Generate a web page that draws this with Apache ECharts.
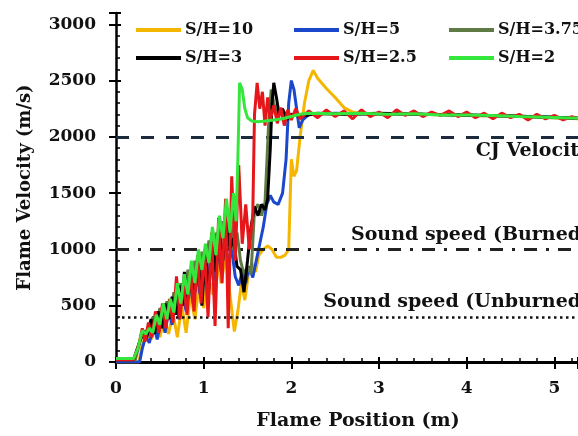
<!DOCTYPE html>
<html>
<head>
<meta charset="utf-8">
<script src="https://cdn.jsdelivr.net/npm/echarts@6/dist/echarts.min.js"></script>
<style>
  html, body { margin: 0; padding: 0; background: #fff; }
  #chart { width: 578px; height: 436px; }
</style>
</head>
<body>
<div id="chart"></div>
<script>
// flame velocity vs position, one array per S/H ratio
const seriesNames = ['S/H=10', 'S/H=5', 'S/H=3.75', 'S/H=3', 'S/H=2.5', 'S/H=2'];
const seriesColors = ['#f4b600', '#1b47cc', '#5f7a45', '#000000', '#e5171b', '#35e63c'];

const sh10 = [[0,0],[0.26,0],[0.3,150],[0.35,260],[0.4,200],[0.45,330],[0.5,220],[0.55,380],[0.6,250],[0.65,430],[0.7,220],[0.75,500],[0.8,260],[0.85,600],[0.9,380],[0.95,700],[1.0,480],[1.05,800],[1.1,600],[1.15,900],[1.2,700],[1.25,950],[1.3,600],[1.35,270],[1.39,450],[1.43,700],[1.47,550],[1.51,780],[1.55,880],[1.59,800],[1.63,950],[1.68,1000],[1.73,1030],[1.78,1000],[1.83,930],[1.88,930],[1.93,950],[1.97,1000],[2.0,1800],[2.03,1650],[2.06,1700],[2.1,2000],[2.15,2300],[2.2,2500],[2.25,2590],[2.3,2520],[2.4,2430],[2.5,2350],[2.6,2260],[2.7,2220],[2.8,2205],[3.0,2200],[3.5,2200],[4.0,2190],[4.5,2185],[5.0,2170],[5.27,2160]];

const sh5 = [[0,0],[0.27,0],[0.3,120],[0.34,230],[0.38,170],[0.43,320],[0.47,200],[0.52,400],[0.56,260],[0.6,460],[0.64,330],[0.68,560],[0.72,380],[0.76,620],[0.8,450],[0.84,720],[0.88,520],[0.92,800],[0.96,600],[1.0,880],[1.04,650],[1.08,950],[1.12,720],[1.16,1020],[1.2,800],[1.24,1100],[1.28,880],[1.32,1000],[1.36,760],[1.4,680],[1.44,800],[1.48,700],[1.52,850],[1.56,750],[1.6,900],[1.64,1050],[1.68,1200],[1.72,1400],[1.76,1480],[1.8,1420],[1.85,1400],[1.9,1500],[1.94,1800],[1.97,2300],[2.0,2500],[2.03,2420],[2.06,2250],[2.09,2080],[2.13,2150],[2.2,2200],[2.5,2210],[3.0,2200],[3.5,2200],[4.0,2195],[4.5,2185],[5.0,2175],[5.27,2165]];

const sh375 = [[0,20],[0.22,20],[0.28,200],[0.33,280],[0.37,230],[0.42,400],[0.46,270],[0.5,480],[0.54,320],[0.58,540],[0.62,400],[0.66,620],[0.7,450],[0.74,700],[0.78,530],[0.82,820],[0.86,600],[0.9,900],[0.94,680],[0.98,980],[1.02,750],[1.06,1080],[1.1,850],[1.14,1150],[1.18,950],[1.22,1250],[1.26,1050],[1.3,1300],[1.34,1000],[1.38,1150],[1.42,900],[1.46,780],[1.5,850],[1.54,780],[1.58,1350],[1.62,1400],[1.66,1300],[1.7,1420],[1.74,2100],[1.77,2420],[1.8,2300],[1.84,2180],[1.9,2220],[2.0,2190],[2.2,2200],[2.6,2205],[3.0,2200],[3.5,2200],[4.0,2190],[4.5,2185],[5.0,2170],[5.27,2165]];

const sh3 = [[0,20],[0.2,20],[0.27,180],[0.31,260],[0.35,220],[0.4,380],[0.44,250],[0.48,450],[0.52,300],[0.56,520],[0.6,380],[0.64,580],[0.68,420],[0.72,680],[0.76,500],[0.78,800],[0.82,560],[0.86,780],[0.9,620],[0.94,880],[0.98,500],[1.02,950],[1.06,650],[1.1,1050],[1.14,800],[1.18,1150],[1.22,900],[1.26,1250],[1.3,1000],[1.34,1100],[1.38,850],[1.42,820],[1.46,620],[1.5,900],[1.54,1200],[1.58,1380],[1.62,1300],[1.66,1400],[1.7,1350],[1.73,1450],[1.76,1900],[1.78,2300],[1.8,2480],[1.83,2350],[1.86,2200],[1.9,2250],[1.95,2150],[2.0,2200],[2.1,2180],[2.3,2210],[2.6,2200],[3.0,2210],[3.5,2200],[4.0,2195],[4.5,2185],[5.0,2175],[5.27,2165]];

const sh25 = [[0,20],[0.2,20],[0.26,150],[0.3,300],[0.33,180],[0.37,350],[0.41,220],[0.45,450],[0.49,260],[0.53,520],[0.57,300],[0.61,560],[0.65,350],[0.69,760],[0.73,380],[0.77,700],[0.81,420],[0.85,820],[0.89,450],[0.93,950],[0.97,520],[1.01,1000],[1.05,400],[1.09,1150],[1.13,320],[1.17,1280],[1.21,700],[1.25,1450],[1.28,300],[1.32,1650],[1.36,900],[1.4,1750],[1.44,1050],[1.48,1400],[1.52,1000],[1.56,1300],[1.58,2200],[1.61,2480],[1.64,2250],[1.67,2400],[1.7,2100],[1.73,2350],[1.76,2150],[1.8,2280],[1.84,2120],[1.88,2260],[1.92,2100],[1.96,2240],[2.0,2150],[2.05,2250],[2.1,2160],[2.2,2230],[2.3,2170],[2.4,2240],[2.5,2180],[2.6,2230],[2.7,2160],[2.8,2240],[2.9,2180],[3.0,2220],[3.1,2170],[3.2,2240],[3.3,2190],[3.4,2230],[3.5,2180],[3.6,2220],[3.7,2190],[3.8,2230],[3.9,2180],[4.0,2220],[4.1,2170],[4.2,2210],[4.3,2160],[4.4,2210],[4.5,2170],[4.6,2200],[4.7,2150],[4.8,2200],[4.9,2160],[5.0,2190],[5.1,2150],[5.2,2180],[5.27,2160]];

const sh2 = [[0,30],[0.2,30],[0.25,120],[0.3,280],[0.34,250],[0.38,300],[0.42,260],[0.46,420],[0.5,330],[0.54,520],[0.58,380],[0.62,560],[0.66,440],[0.7,700],[0.74,520],[0.78,780],[0.82,600],[0.86,900],[0.9,700],[0.94,1000],[0.98,820],[1.02,1050],[1.06,880],[1.1,1200],[1.14,950],[1.18,1300],[1.22,1100],[1.26,1450],[1.3,1150],[1.34,1500],[1.37,1250],[1.39,1800],[1.41,2480],[1.44,2420],[1.47,2250],[1.5,2170],[1.55,2140],[1.62,2135],[1.7,2140],[1.8,2150],[1.9,2160],[2.0,2180],[2.1,2200],[2.2,2210],[2.5,2205],[2.8,2210],[3.1,2200],[3.4,2205],[3.7,2195],[4.0,2195],[4.3,2190],[4.6,2180],[4.9,2175],[5.1,2170],[5.27,2165]];

const allData = [sh10, sh5, sh375, sh3, sh25, sh2];

// reference speeds
const refValues = [2000, 1000, 400];
const refLabels = ['CJ Velocity', 'Sound speed (Burned)', 'Sound speed (Unburned)'];

const xTicks = [0, 5.27, 1];      // min, max, interval
const yTicks = [0, 3100, 500];

const font = 'DejaVu Serif';
const chart = echarts.init(document.getElementById('chart'));

let series = seriesNames.map(function (name, i) {
  return {
    name: name,
    type: 'line',
    data: allData[i],
    showSymbol: false,
    symbol: 'none',
    lineStyle: { width: 3, color: seriesColors[i] },
    itemStyle: { color: seriesColors[i] },
    z: 3 + i
  };
});

series.push({
  name: 'refs',
  type: 'line',
  data: [],
  z: 2,
  markLine: {
    silent: true,
    symbol: 'none',
    data: [
      {
        yAxis: refValues[0],
        lineStyle: { color: '#1b2b3b', width: 3, type: [13, 12] },
        label: { formatter: refLabels[0], position: 'insideEndBottom' }
      },
      {
        yAxis: refValues[1],
        lineStyle: { color: '#222', width: 3, type: [13, 9, 3, 9] },
        label: { formatter: refLabels[1], position: 'insideEndTop' }
      },
      {
        yAxis: refValues[2],
        lineStyle: { color: '#111', width: 2.5, type: [2.5, 3.5] },
        label: { formatter: refLabels[2], position: 'insideEndTop' }
      }
    ],
    label: {
      show: true,
      color: '#111',
      fontFamily: font,
      fontWeight: 'bold',
      fontSize: 19,
      distance: [-12, 5]
    }
  }
});

function legendCol(left, names) {
  return {
    orient: 'vertical',
    left: left,
    top: 17,
    data: names,
    icon: 'rect',
    itemWidth: 45,
    itemHeight: 4,
    itemGap: 12,
    textStyle: { fontFamily: font, fontWeight: 'bold', fontSize: 16, color: '#111', lineHeight: 16, padding: [0, 0, 0, -1] }
  };
}

// extra axes only carry the outside half of the major ticks
const outsideTick = { show: true, inside: false, length: 7, lineStyle: { color: '#000', width: 2 } };

const option = {
  animation: false,
  backgroundColor: '#fff',
  grid: { left: 116, right: 0, top: 13, bottom: 69 },
  legend: [
    legendCol(131, [seriesNames[0], seriesNames[3]]),
    legendCol(289, [seriesNames[1], seriesNames[4]]),
    legendCol(444, [seriesNames[2], seriesNames[5]])
  ],
  xAxis: [
    {
      type: 'value',
      min: xTicks[0], max: xTicks[1], interval: xTicks[2],
      name: 'Flame Position (m)',
      nameLocation: 'middle',
      nameGap: 50,
      nameTextStyle: { fontFamily: font, fontWeight: 'bold', fontSize: 19, color: '#111', padding: [0, 0, 0, 22] },
      axisLine: { lineStyle: { color: '#000', width: 2.5 } },
      axisTick: { inside: true, length: 5, lineStyle: { color: '#000', width: 2 } },
      minorTick: { show: true, splitNumber: 5, length: 4, lineStyle: { color: '#000', width: 1.5 } },
      axisLabel: { fontFamily: font, fontWeight: 'bold', fontSize: 17, color: '#111', margin: 18, showMaxLabel: false },
      splitLine: { show: false }
    },
    {
      type: 'value', position: 'top',
      min: xTicks[0], max: xTicks[1],
      axisLine: { lineStyle: { color: '#000', width: 3 } },
      axisTick: { show: false }, axisLabel: { show: false }, splitLine: { show: false }
    },
    {
      type: 'value', position: 'bottom',
      min: xTicks[0], max: xTicks[1], interval: xTicks[2],
      axisLine: { show: false },
      axisTick: outsideTick, axisLabel: { show: false }, splitLine: { show: false }
    }
  ],
  yAxis: [
    {
      type: 'value',
      min: yTicks[0], max: yTicks[1], interval: yTicks[2],
      name: 'Flame Velocity (m/s)',
      nameLocation: 'middle',
      nameGap: 82,
      nameTextStyle: { fontFamily: font, fontWeight: 'bold', fontSize: 18, color: '#111' },
      axisLine: { show: true, lineStyle: { color: '#000', width: 2.5 } },
      axisTick: { inside: true, length: 5, lineStyle: { color: '#000', width: 2 } },
      minorTick: { show: true, splitNumber: 5, length: 4, lineStyle: { color: '#000', width: 1.5 } },
      axisLabel: { fontFamily: font, fontWeight: 'bold', fontSize: 17, color: '#111', margin: 20, showMaxLabel: false,
        formatter: function (v) { return String(v); } },
      splitLine: { show: false }
    },
    {
      type: 'value', position: 'left',
      min: yTicks[0], max: yTicks[1], interval: yTicks[2],
      axisLine: { show: false },
      axisTick: outsideTick, axisLabel: { show: false }, splitLine: { show: false }
    }
  ],
  series: series
};

chart.setOption(option);
</script>
</body>
</html>
